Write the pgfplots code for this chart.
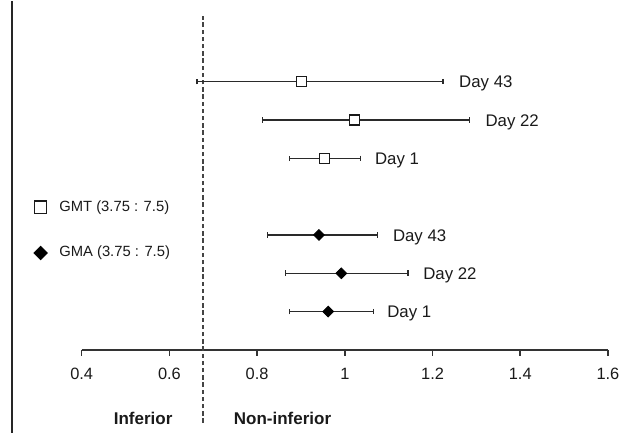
\documentclass[border=0pt]{standalone}
\usepackage{pgfplots}
\usepackage{pgfplotstable}
\pgfplotsset{compat=1.18}
\usepackage{fontspec}
\setmainfont{Liberation Sans}
\definecolor{ink}{HTML}{1A1A1A}
\definecolor{barc}{HTML}{2A2A2A}
\definecolor{axc}{HTML}{333333}
\definecolor{dashc}{HTML}{444444}

\pgfplotstableread{
x y lo hi
0.902 7 0.663 1.224
1.022 6 0.813 1.284
0.953 5 0.873 1.035
}\gmt
\pgfplotstableread{
x y lo hi
0.941 3 0.823 1.075
0.992 2 0.864 1.144
0.962 1 0.873 1.065
}\gma

\begin{document}
\begin{tikzpicture}
\begin{axis}[
  scale only axis,
  width=263.2pt, height=174.5pt,
  xmin=0.4, xmax=1.6, ymin=0, ymax=9.105,
  axis x line=bottom, axis y line=none,
  x axis line style={-, draw=axc, line width=0.8pt},
  xtick={0.4,0.6,0.8,1,1.2,1.4,1.6},
  tick align=outside, major tick length=3pt,
  tick style={draw=axc, line width=0.8pt},
  /pgf/number format/assume math mode=true,
  xticklabel style={font=\fontsize{8.2}{9}\selectfont, text=ink, yshift=-2.5pt},
  clip=false,
  legend style={draw=none, fill=none, at={(axis cs:0.290,3.125)}, anchor=west,
    font=\fontsize{7.4}{8.5}\selectfont, text=ink, row sep=12pt, inner sep=0pt},
  legend cell align=left,
  legend image post style={scale=1.25},
]
\path (axis cs:0.2137,-2.165) rectangle (axis cs:1.641,9.105);
\draw[line width=1pt, black!85] (axis cs:0.2400,-2.165) -- (axis cs:0.2400,9.105);
\draw[dash pattern=on 2.2pt off 1.4pt, line width=0.8pt, dashc] (axis cs:0.677,-1.90) -- (axis cs:0.677,8.71);

\addplot[only marks, mark=square*, mark size=2.5pt,
  mark options={fill=white, draw=ink, line width=0.6pt},
  error bars/.cd, x dir=both, x explicit,
  error bar style={draw=barc, line width=0.6pt},
  error mark options={rotate=90, draw=barc, mark size=1.4pt, line width=0.6pt}]
  table[x=x, y=y, x error plus expr=\thisrow{hi}-\thisrow{x}, x error minus expr=\thisrow{x}-\thisrow{lo}] {\gmt};
\addlegendentry{\hspace{4pt}GMT (3.75 : 7.5)}
\addplot[only marks, mark=square*, mark size=1.9pt,
  mark options={rotate=45, fill=black, draw=black},
  error bars/.cd, x dir=both, x explicit,
  error bar style={draw=barc, line width=0.6pt},
  error mark options={rotate=90, draw=barc, mark size=1.4pt, line width=0.6pt}]
  table[x=x, y=y, x error plus expr=\thisrow{hi}-\thisrow{x}, x error minus expr=\thisrow{x}-\thisrow{lo}] {\gma};
\addlegendentry{\hspace{4pt}GMA (3.75 : 7.5)}

\begin{scope}[every node/.style={anchor=west, font=\fontsize{8.4}{10}\selectfont, text=ink, inner sep=0pt, yshift=-1pt}]
\node at (axis cs:1.260,7) {Day 43};
\node at (axis cs:1.320,6) {Day 22};
\node at (axis cs:1.068,5) {Day 1};
\node at (axis cs:1.109,3) {Day 43};
\node at (axis cs:1.178,2) {Day 22};
\node at (axis cs:1.096,1) {Day 1};
\end{scope}
\node[font=\bfseries\fontsize{8.5}{10}\selectfont, text=ink] at (axis cs:0.54,-1.80) {Inferior};
\node[font=\bfseries\fontsize{8.5}{10}\selectfont, text=ink] at (axis cs:0.858,-1.80) {Non-inferior};
\end{axis}
\end{tikzpicture}
\end{document}
